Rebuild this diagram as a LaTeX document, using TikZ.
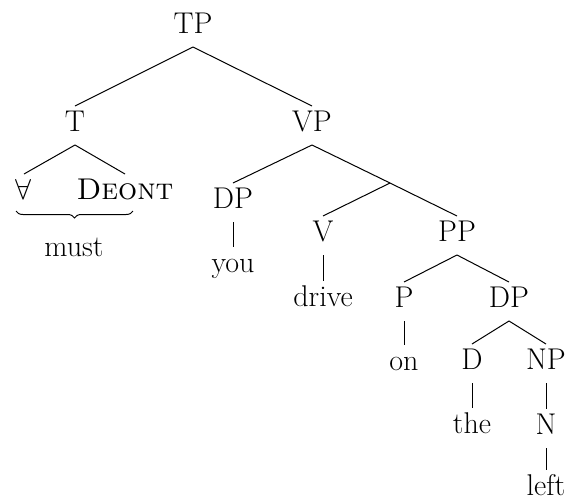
\documentclass[tikz,border=0pt]{standalone}
\usetikzlibrary{decorations.pathreplacing}
\begin{document}
\begin{tikzpicture}[x=0.5pt,y=-0.5pt,
  tn/.style={anchor=base,inner sep=0pt,outer sep=0pt,text height=12.5pt,text depth=7pt,font=\fontsize{15}{18}\selectfont},
  edge/.style={draw=black,line width=0.5pt},
  bracestyle/.style={draw=black,line width=0.5pt,decorate,decoration={brace,mirror,amplitude=3.5pt}}]
\useasboundingbox (0,0) rectangle (568,499);
\node[tn] (TP) at (193,33) {TP};
\node[tn] (T) at (75,131) {T};
\node[tn] (VP) at (312,131) {VP};
\node[tn] (A) at (24,199) {$\forall$};
\node[tn] (De) at (125,199) {\textsc{Deont}};
\node[tn] (must) at (74,256) {must};
\node[tn] (DPa) at (233,208) {DP};
\node[tn] (you) at (233,272) {you};
\coordinate (Vb) at (390,183);
\node[tn] (V) at (323,241) {V};
\node[tn] (PP) at (457,241) {PP};
\node[tn] (drive) at (323,306) {drive};
\node[tn] (P) at (404,307) {P};
\node[tn] (DPb) at (509,307) {DP};
\node[tn] (on) at (404,370) {on};
\node[tn] (D) at (472,369) {D};
\node[tn] (NP) at (546,369) {NP};
\node[tn] (the) at (472,433) {the};
\node[tn] (N) at (546,434) {N};
\node[tn] (left) at (546,495) {left};
\coordinate (bl) at (16,211);
\coordinate (br) at (133,211);
\draw[edge] (TP.south) -- (T.north);
\draw[edge] (TP.south) -- (VP.north);
\draw[edge] (T.south) -- (A.north);
\draw[edge] (T.south) -- (De.north);
\draw[edge] (VP.south) -- (DPa.north);
\draw[edge] (VP.south) -- (Vb);
\draw[edge] (Vb) -- (PP.north);
\draw[edge] (Vb) -- (V.north);
\draw[edge] (DPa.south) -- (you.north);
\draw[edge] (V.south) -- (drive.north);
\draw[edge] (PP.south) -- (P.north);
\draw[edge] (PP.south) -- (DPb.north);
\draw[edge] (P.south) -- (on.north);
\draw[edge] (DPb.south) -- (D.north);
\draw[edge] (DPb.south) -- (NP.north);
\draw[edge] (D.south) -- (the.north);
\draw[edge] (NP.south) -- (N.north);
\draw[edge] (N.south) -- (left.north);
\draw[bracestyle] (bl) -- (br);
\end{tikzpicture}
\end{document}
